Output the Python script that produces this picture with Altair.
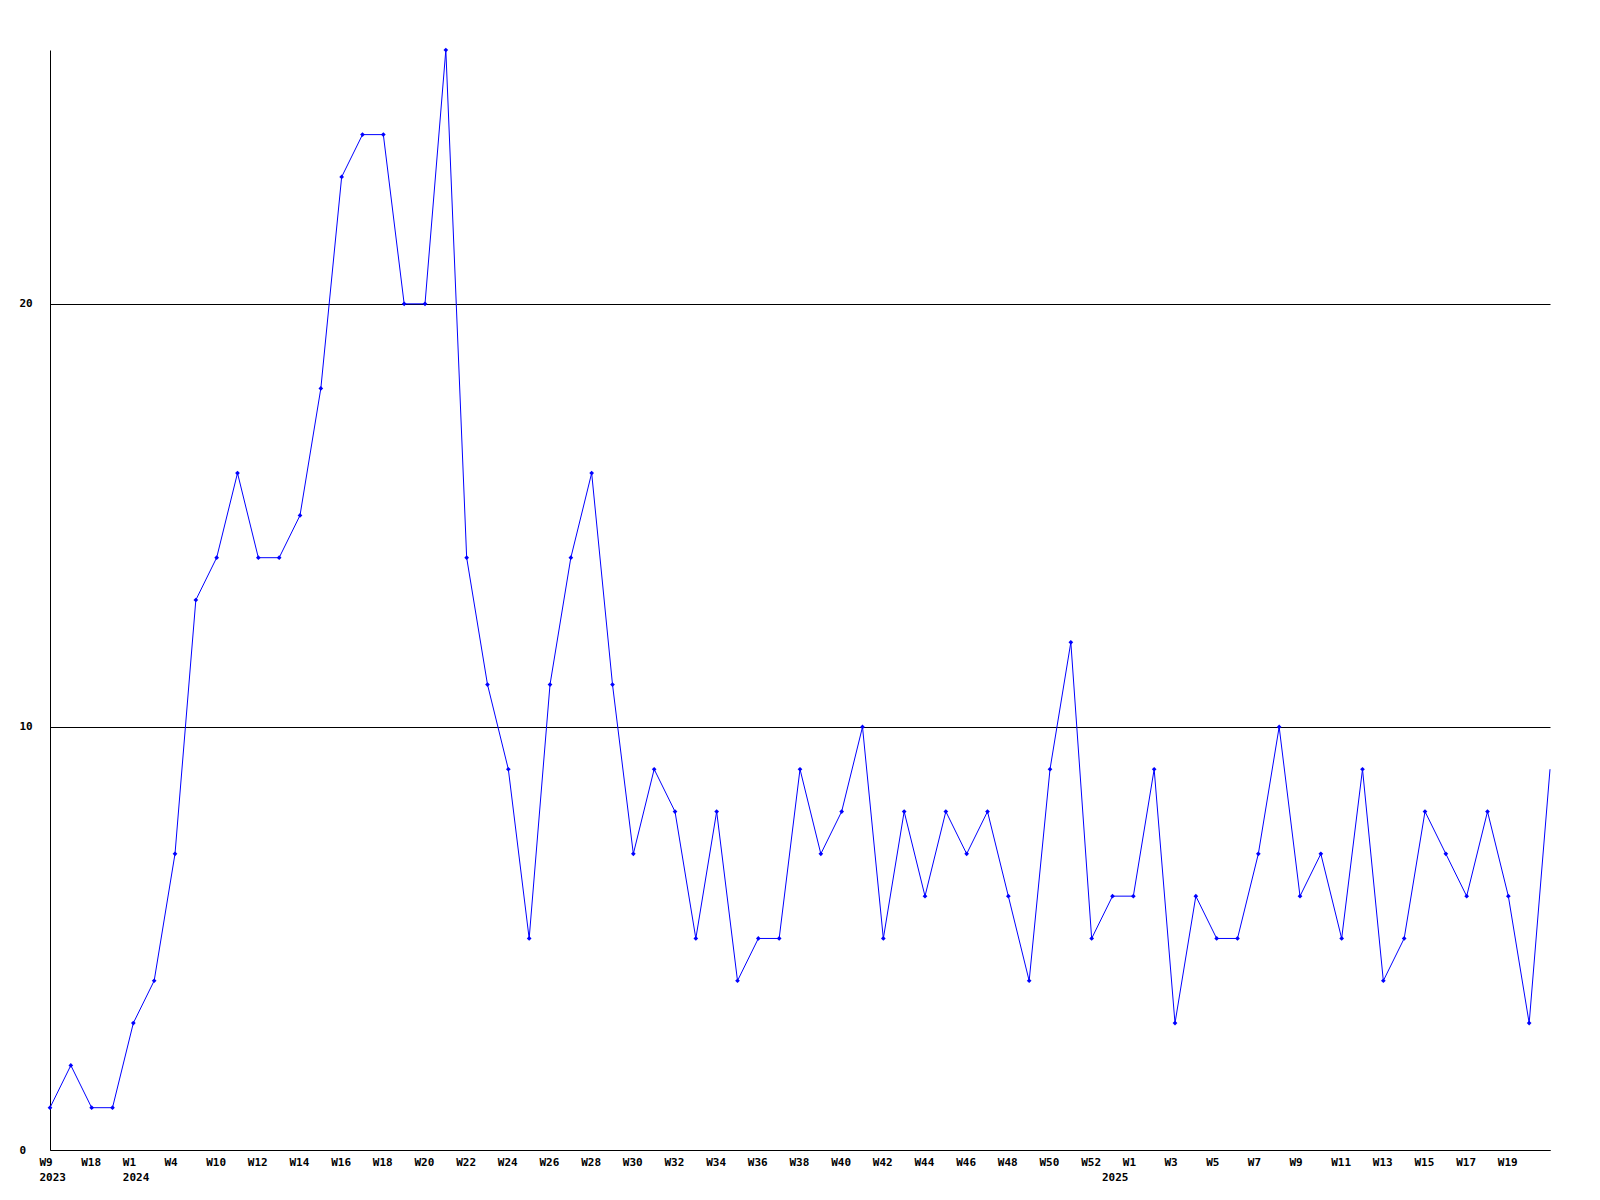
import json
import altair as alt
import pandas as pd

weeks = ["W9", "W13", "W18", "W40", "W1", "W2", "W4", "W7", "W10", "W11",
         "W12", "W13", "W14", "W15", "W16", "W17", "W18", "W19", "W20", "W21",
         "W22", "W23", "W24", "W25", "W26", "W27", "W28", "W29", "W30", "W31",
         "W32", "W33", "W34", "W35", "W36", "W37", "W38", "W39", "W40", "W41",
         "W42", "W43", "W44", "W45", "W46", "W47", "W48", "W49", "W50", "W51",
         "W52", "W53", "W1", "W2", "W3", "W4", "W5", "W6", "W7", "W8",
         "W9", "W10", "W11", "W12", "W13", "W14", "W15", "W16", "W17", "W18",
         "W19", "W20", "W21"]
years = {0: "2023", 4: "2024", 51: "2025"}
values = [1, 2, 1, 1, 3, 4, 7, 13, 14, 16,
          14, 14, 15, 18, 23, 24, 24, 20, 20, 26,
          14, 11, 9, 5, 11, 14, 16, 11, 7, 9,
          8, 5, 8, 4, 5, 5, 9, 7, 8, 10,
          5, 8, 6, 8, 7, 8, 6, 4, 9, 12,
          5, 6, 6, 9, 3, 6, 5, 5, 7, 10,
          6, 7, 5, 9, 4, 5, 8, 7, 6, 8,
          6, 3, 9]
y_ticks = [0, 10, 20]

n = len(values)
df = pd.DataFrame({"i": list(range(n)), "v": values, "week": weeks})

tick_idx = sorted(set(range(0, n - 1, 2)) | set(years.keys()))
tick_labels = []
for k, w in enumerate(weeks):
    top = w if k % 2 == 0 else " "
    tick_labels.append(top + ("\n" + years[k] if k in years else ""))
label_expr = "split(" + json.dumps(tick_labels) + "[datum.value], '\\n')"

font = "DejaVu Sans Mono"

x = alt.X("i:Q",
          scale=alt.Scale(domain=[0, n - 1], nice=False, zero=False),
          axis=alt.Axis(values=tick_idx, labelExpr=label_expr,
                        title=None, grid=False, ticks=False, tickSize=0,
                        domainColor="black", domainWidth=1,
                        labelFont=font, labelFontWeight="bold", labelFontSize=11,
                        labelColor="black", labelAlign="left", labelOffset=-11,
                        labelBaseline="top", labelPadding=6, labelLineHeight=15,
                        labelOverlap=False, labelFlush=False))
y = alt.Y("v:Q",
          scale=alt.Scale(domain=[0, 26], nice=False),
          axis=alt.Axis(values=y_ticks, title=None, grid=True, gridColor="black",
                        gridWidth=1, gridOpacity=1, ticks=False, tickSize=0,
                        domainColor="black", domainWidth=1,
                        labelFont=font, labelFontWeight="bold", labelFontSize=11,
                        labelColor="black", labelAlign="left", labelPadding=31,
                        labelBaseline="middle"))

line = alt.Chart(df).mark_line(color="#0000ff", strokeWidth=1).encode(x=x, y=y)
pts = alt.Chart(df).transform_filter(alt.datum.i < n - 1).mark_point(
    shape="diamond", filled=True, color="#0000ff", size=22, opacity=1
).encode(x="i:Q", y="v:Q")

chart = (line + pts).properties(
    width=1500, height=1100,
    autosize=alt.AutoSizeParams(type="none"),
    padding={"left": 42, "top": 42, "right": 30, "bottom": 60},
).configure_view(stroke=None)

chart.save("out.html", embed_options={"renderer": "svg", "actions": False})
